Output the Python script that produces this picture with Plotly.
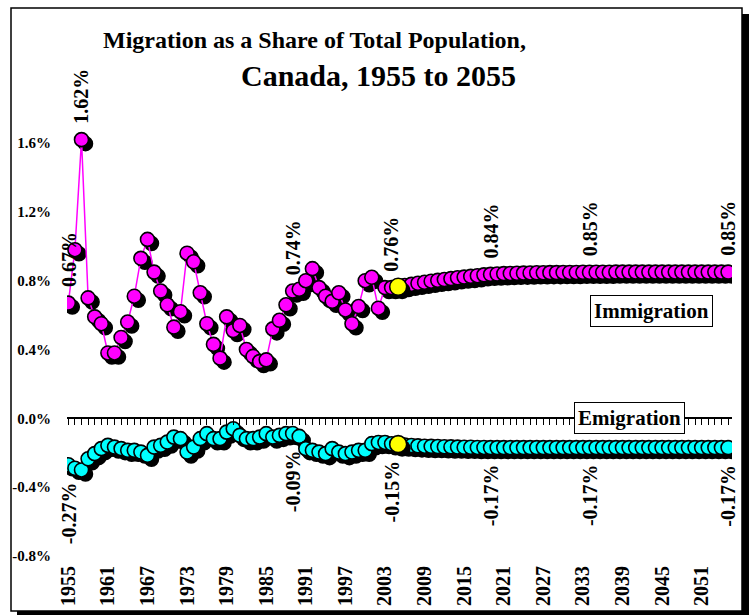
import plotly.graph_objects as go

# ---------------- data ----------------
years = list(range(1955, 2056))

immigration = [
    0.67, 0.98, 1.62, 0.70, 0.59, 0.55, 0.38, 0.38, 0.47, 0.56,   # 1955-1964
    0.71, 0.93, 1.04, 0.85, 0.74, 0.66, 0.53, 0.62, 0.96, 0.91,   # 1965-1974
    0.73, 0.55, 0.43, 0.35, 0.59, 0.51, 0.54, 0.40, 0.36, 0.33,   # 1975-1984
    0.34, 0.52, 0.57, 0.66, 0.74, 0.75, 0.80, 0.87, 0.76, 0.71,   # 1985-1994
    0.68, 0.73, 0.63, 0.55, 0.65, 0.80, 0.82, 0.64, 0.76, 0.76,   # 1995-2004
    0.765, 0.772, 0.779, 0.785, 0.791, 0.797, 0.802, 0.807, 0.812, 0.817,  # 2005-2014
    0.821, 0.825, 0.829, 0.834, 0.837, 0.839, 0.841, 0.842, 0.843, 0.844,  # 2015-2024
    0.845, 0.846, 0.846, 0.847, 0.847, 0.848, 0.848, 0.848, 0.849, 0.849,  # 2025-2034
    0.849, 0.849, 0.849, 0.850, 0.850, 0.850, 0.850, 0.850, 0.850, 0.850,  # 2035-2044
    0.850, 0.850, 0.850, 0.850, 0.850, 0.850, 0.850, 0.850, 0.850, 0.850,  # 2045-2054
    0.850,                                                                 # 2055
]

emigration = [
    -0.27, -0.29, -0.30, -0.235, -0.205, -0.176, -0.157, -0.167, -0.176, -0.186,  # 1955-1964
    -0.186, -0.196, -0.215, -0.167, -0.157, -0.138, -0.109, -0.118, -0.196, -0.167,  # 1965-1974
    -0.118, -0.089, -0.118, -0.118, -0.080, -0.060, -0.099, -0.118, -0.118, -0.109,  # 1975-1984
    -0.089, -0.109, -0.099, -0.089, -0.088, -0.105, -0.176, -0.186, -0.196, -0.205,  # 1985-1994
    -0.176, -0.196, -0.205, -0.196, -0.186, -0.186, -0.147, -0.140, -0.140, -0.148,  # 1995-2004
    -0.150, -0.155, -0.158, -0.160, -0.162, -0.163, -0.164, -0.165, -0.166, -0.167,  # 2005-2014
    -0.168, -0.168, -0.169, -0.169, -0.170, -0.170, -0.170, -0.170, -0.170, -0.170,  # 2015-2024
    -0.170, -0.170, -0.170, -0.170, -0.170, -0.170, -0.170, -0.170, -0.170, -0.170,  # 2025-2034
    -0.170, -0.170, -0.170, -0.170, -0.170, -0.170, -0.170, -0.170, -0.170, -0.170,  # 2035-2044
    -0.170, -0.170, -0.170, -0.170, -0.170, -0.170, -0.170, -0.170, -0.170, -0.170,  # 2045-2054
    -0.170,                                                                          # 2055
]

highlight_year = 2005
imm_label_years = [1955, 1957, 1989, 2004, 2019, 2034, 2055]
emi_label_years = [1955, 1989, 2004, 2019, 2034, 2055]
year_ticks = [1955, 1961, 1967, 1973, 1979, 1985, 1991, 1997, 2003,
              2009, 2015, 2021, 2027, 2033, 2039, 2045, 2051]
y_ticks = [-0.8, -0.4, 0.0, 0.4, 0.8, 1.2, 1.6]
y_tick_text = ["-0.8%", "-0.4%", "0.0%", "0.4%", "0.8%", "1.2%", "1.6%"]

title_line1 = "Migration as a Share of Total Population,"
title_line2 = "Canada, 1955 to 2055"

assert len(immigration) == len(years) == len(emigration)

# ---------------- figure ----------------
W, H = 753, 615
FONT = "Liberation Serif"


def px(xp):
    return xp / W


def py(yp):
    return 1 - yp / H


X_RANGE = [1954.8, 2055.6]
Y_RANGE = [-0.8, 2.0]
x_dom = [px(67), px(732)]
y_dom = [py(556), py(74.25)]
zero_pos = y_dom[0] + (0 - Y_RANGE[0]) / (Y_RANGE[1] - Y_RANGE[0]) * (y_dom[1] - y_dom[0])

# shadow offset (about 4 px right / 4 px down)
sx = 4 * (X_RANGE[1] - X_RANGE[0]) / (732 - 67)
sy = 4 * (Y_RANGE[1] - Y_RANGE[0]) / (556 - 74.25)

MS = 14

fig = go.Figure()

for vals in (immigration, emigration):
    fig.add_trace(go.Scatter(
        x=[y + sx for y in years], y=[v - sy for v in vals],
        mode="markers", marker=dict(size=MS, color="black", line=dict(width=1.5, color="black")),
        hoverinfo="skip", showlegend=False))

series = [("Immigration", immigration, "#FF00FF"), ("Emigration", emigration, "#00FFFF")]
for name, vals, col in series:
    fig.add_trace(go.Scatter(
        x=years, y=vals, mode="lines+markers", name=name,
        line=dict(color=col, width=1.5),
        marker=dict(size=MS, color=col, line=dict(width=1.6, color="black")),
        showlegend=False))

# highlighted base-year markers (drawn on top)
hi = years.index(highlight_year)
hx = [highlight_year, highlight_year]
hy = [immigration[hi], emigration[hi]]
fig.add_trace(go.Scatter(x=[v + sx for v in hx], y=[v - sy for v in hy], mode="markers",
                         marker=dict(size=17, color="black"), hoverinfo="skip", showlegend=False))
fig.add_trace(go.Scatter(x=hx, y=hy, mode="markers",
                         marker=dict(size=17, color="#FFFF00", line=dict(width=1.6, color="black")),
                         showlegend=False))

# invisible trace for the zero-crossing category axis
fig.add_trace(go.Scatter(x=[years[0]], y=[0], xaxis="x2", mode="markers",
                         marker=dict(opacity=0), hoverinfo="skip", showlegend=False))

annotations = []
# title
annotations.append(dict(text=title_line1, x=px(314), y=py(40), xref="paper", yref="paper",
                        showarrow=False, xanchor="center", yanchor="middle",
                        font=dict(family=FONT, size=24, color="black", weight="bold")))
annotations.append(dict(text=title_line2, x=px(378), y=py(76), xref="paper", yref="paper",
                        showarrow=False, xanchor="center", yanchor="middle",
                        font=dict(family=FONT, size=30, color="black", weight="bold")))

lab_font = dict(family=FONT, size=20, color="black", weight="bold")
for yr in imm_label_years:
    v = immigration[years.index(yr)]
    annotations.append(dict(text=f"{v:.2f}%", x=yr, y=v, xref="x", yref="y", showarrow=False,
                            textangle=-90, xanchor="center", yanchor="bottom", yshift=14,
                            font=lab_font))
for yr in emi_label_years:
    v = emigration[years.index(yr)]
    annotations.append(dict(text=f"{v:.2f}%", x=yr, y=v, xref="x", yref="y", showarrow=False,
                            textangle=-90, xanchor="center", yanchor="top", yshift=-15,
                            font=lab_font))

box_font = dict(family=FONT, size=21, color="black", weight="bold")
annotations.append(dict(text="Immigration", x=px(651), y=py(311), xref="paper", yref="paper",
                        showarrow=False, xanchor="center", yanchor="middle", font=box_font,
                        bgcolor="white", bordercolor="black", borderwidth=1, borderpad=3))
annotations.append(dict(text="Emigration", x=px(629), y=py(418), xref="paper", yref="paper",
                        showarrow=False, xanchor="center", yanchor="middle", font=box_font,
                        bgcolor="white", bordercolor="black", borderwidth=1, borderpad=3))

shapes = [
    dict(type="rect", xref="paper", yref="paper", x0=px(17), x1=px(749), y0=py(620), y1=py(14),
         fillcolor="black", line=dict(width=0), layer="below"),
    dict(type="rect", xref="paper", yref="paper", x0=px(11), x1=px(742), y0=py(611), y1=py(8),
         fillcolor="white", line=dict(width=1.5, color="black"), layer="below"),
]

fig.update_layout(
    width=W, height=H, margin=dict(l=0, r=0, t=0, b=0, autoexpand=False),
    paper_bgcolor="white", plot_bgcolor="rgba(0,0,0,0)",
    showlegend=False, annotations=annotations, shapes=shapes,
    xaxis=dict(domain=x_dom, range=X_RANGE, showgrid=False, zeroline=False, showline=False,
               automargin=False,
               tickmode="array", tickvals=year_ticks, ticktext=[str(t) for t in year_ticks],
               tickangle=-90, ticks="outside", ticklen=1, tickcolor="rgba(0,0,0,0)",
               tickfont=dict(family=FONT, size=20, color="black", weight="bold")),
    xaxis2=dict(overlaying="x", anchor="free", position=zero_pos, domain=x_dom, range=X_RANGE,
                automargin=False,
                showgrid=False, zeroline=False, showline=True, linecolor="black", linewidth=1.5,
                ticks="outside", ticklen=6, tickwidth=1, tickcolor="black",
                tickmode="linear", tick0=1955, dtick=1, showticklabels=False),
    yaxis=dict(domain=y_dom, range=Y_RANGE, showgrid=False, zeroline=False, showline=False,
               automargin=False,
               tickmode="array", tickvals=y_ticks, ticktext=y_tick_text,
               ticks="outside", ticklen=12, tickcolor="rgba(0,0,0,0)",
               tickfont=dict(family=FONT, size=15, color="black", weight="bold")),
)

fig.write_html("out.html", config={"displayModeBar": False},
               post_script="document.body.style.margin='0';document.body.style.overflow='hidden';")
